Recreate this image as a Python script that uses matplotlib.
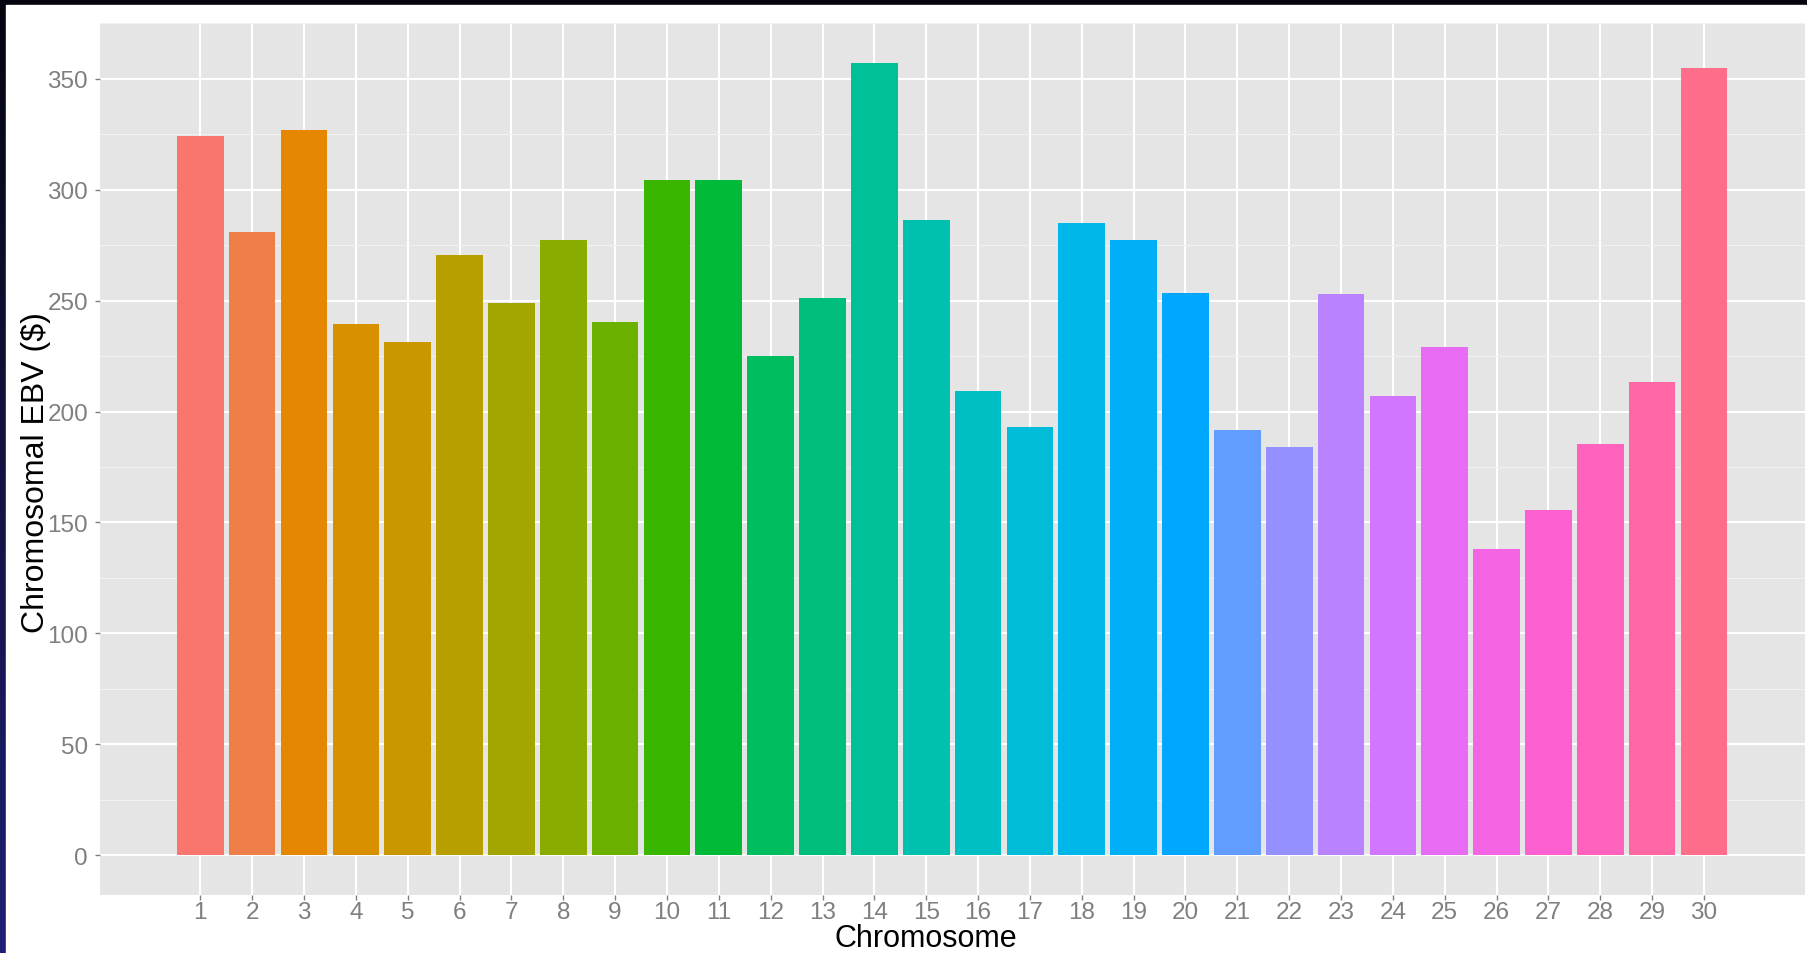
import numpy as np
import matplotlib.pyplot as plt
from matplotlib.patches import Rectangle
from matplotlib.colors import LinearSegmentedColormap

plt.rcParams['font.family'] = ['Liberation Sans', 'DejaVu Sans']

# Datos
chromosomes = list(range(1, 31))
ebv = [324.1, 281.0, 327.0, 239.3, 231.2, 270.3, 249.1, 277.5, 240.3, 304.3,
       304.3, 225.1, 251.2, 357.2, 286.4, 209.2, 192.8, 284.9, 277.5, 253.6,
       191.8, 184.2, 253.1, 206.8, 229.2, 138.1, 155.7, 185.3, 213.1, 355.0]
y_ticks = [0, 50, 100, 150, 200, 250, 300, 350]


def hcl_hex(h, c=100, l=65):
    # paleta hue de ggplot (polarLUV -> sRGB)
    hr = np.radians(h)
    U, V = c * np.cos(hr), c * np.sin(hr)
    Xn, Yn, Zn = 95.047, 100.0, 108.883
    un = 4 * Xn / (Xn + 15 * Yn + 3 * Zn)
    vn = 9 * Yn / (Xn + 15 * Yn + 3 * Zn)
    Y = Yn * ((l + 16) / 116) ** 3
    u = U / (13 * l) + un
    v = V / (13 * l) + vn
    X = 9.0 * Y * u / (4 * v)
    Z = -X / 3 - 5 * Y + 3 * Y / v
    X, Y, Z = X / 100, Y / 100, Z / 100
    rgb = [3.240479 * X - 1.537150 * Y - 0.498535 * Z,
           -0.969256 * X + 1.875992 * Y + 0.041556 * Z,
           0.055648 * X - 0.204043 * Y + 1.057311 * Z]
    out = []
    for t in rgb:
        t = 1.055 * t ** (1 / 2.4) - 0.055 if t > 0.0031308 else 12.92 * t
        out.append(min(max(t, 0), 1))
    return tuple(out)


n = len(chromosomes)
colors = [hcl_hex(15 + 360 / n * i) for i in range(n)]

W, H = 1808, 954
fig = plt.figure(figsize=(W / 100, H / 100), dpi=100)

# fondo de la diapositiva
bg = fig.add_axes([0, 0, 1, 1])
bg.axis('off')
cmap = LinearSegmentedColormap.from_list('slide', ['#05050f', '#1f1f75'])
bg.imshow(np.linspace(0, 1, 256).reshape(-1, 1), cmap=cmap, aspect='auto',
          extent=[0, 1, 0, 1])
bg.add_patch(Rectangle((6 / W, 0), (W - 8) / W, (H - 6) / H, color='white'))
bg.set_xlim(0, 1)
bg.set_ylim(0, 1)

ax = fig.add_axes([100 / W, (H - 896) / H, 1705 / W, 872 / H])
ax.set_facecolor('#E5E5E5')
ax.bar(chromosomes, ebv, width=0.9, color=colors, zorder=3)
ax.set_xlim(-0.934, 31.948)
ax.set_ylim(-17.86, 375.06)
ax.set_xticks(chromosomes)
ax.set_yticks(y_ticks)
ax.set_yticks(np.arange(25, 376, 50), minor=True)
ax.grid(which='major', color='white', lw=1.5, zorder=1)
ax.yaxis.grid(which='minor', color='#F2F2F2', lw=0.7, zorder=1)
ax.tick_params(which='minor', length=0)
ax.tick_params(which='major', colors='#7F7F7F', labelsize=17.5, length=3.6, width=1)
ax.tick_params(axis='y', pad=5)
ax.tick_params(axis='x', pad=1)
for s in ax.spines.values():
    s.set_visible(False)

fig.text(926 / W, 0.3 / H, 'Chromosome', ha='center', va='bottom', fontsize=22)
fig.text(36 / W, 1 - 473 / H, 'Chromosomal EBV ($)', rotation=90,
         ha='center', va='center', fontsize=23)

fig.savefig('out.png', dpi=100)
